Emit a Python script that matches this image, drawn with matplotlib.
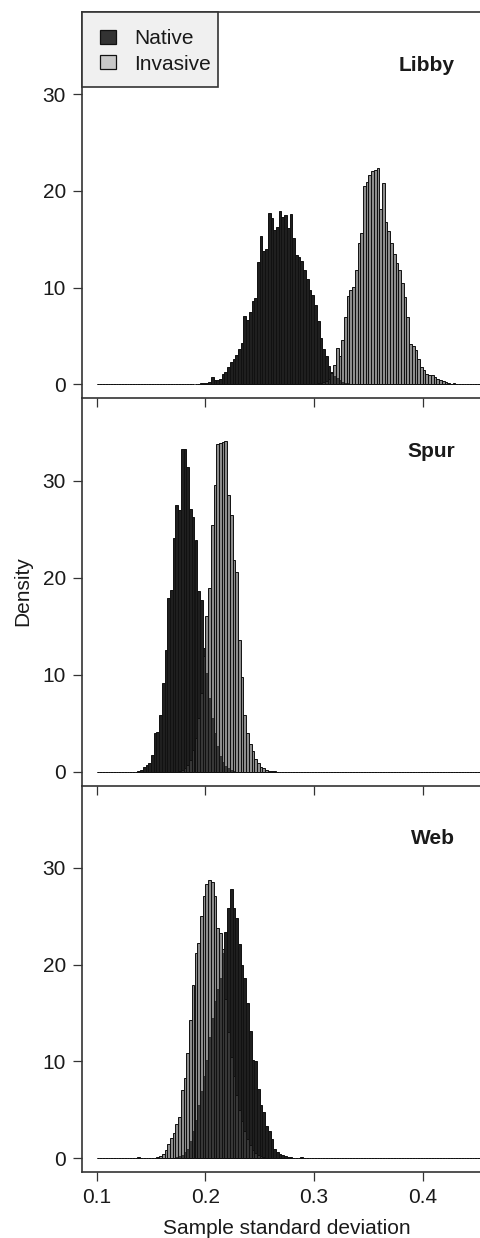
"""
Bootstrap sample-SD histograms, native vs invasive, three sites stacked.
"""

import matplotlib
matplotlib.use("Agg")
import matplotlib.patches as mpatches
import matplotlib.pyplot as plt
import numpy as np

plt.rcParams.update({
    "font.family": "Liberation Sans",
    "font.size": 15,
    "text.color": "#1a1a1a",
})

# ── Data (density per bin, bins 0.0025 wide starting at 0.1) ────────────────

BIN_START = 0.1
BIN_WIDTH = 0.0025
N_BINS = 160

SITES = ["Libby", "Spur", "Web"]
GROUPS = ["Native", "Invasive"]

LIBBY_NATIVE_FIRST = 33
LIBBY_NATIVE = [0.05, 0.05, 0, 0, 0.05, 0.1, 0.15, 0.1, 0.2, 0.75, 0.45, 0.4, 0.5,
                1.1, 1.3, 1.8, 2.3, 2.6, 3.0, 3.7, 4.3, 7.1, 6.6, 7.5, 8.6, 8.9,
                12.6, 15.3, 13.8, 14.0, 17.7, 17.2, 16.0, 16.3, 17.9, 17.3, 17.5,
                16.2, 17.6, 15.1, 13.4, 13.2, 12.7, 11.8, 10.9, 9.7, 9.2, 8.2, 6.5,
                4.8, 3.7, 2.9, 1.9, 1.3, 0.9, 0.6, 0.4, 0.25, 0.15, 0.1, 0.05]
LIBBY_INVASIVE_FIRST = 80
LIBBY_INVASIVE = [0.05, 0.1, 0.15, 0.2, 0.3, 0.5, 1.2, 2.0, 3.8, 2.9, 4.6, 7.0,
                  9.1, 9.8, 10.1, 11.8, 14.6, 15.6, 20.5, 20.9, 21.6, 22.1, 22.2,
                  22.4, 18.1, 20.8, 16.8, 15.8, 14.6, 13.5, 12.5, 11.8, 10.5, 9.0,
                  7.0, 4.2, 4.0, 3.5, 2.6, 1.8, 1.5, 1.1, 1.0, 1.0, 0.8, 0.5, 0.4,
                  0.3, 0.2, 0.1, 0.05, 0.1]

SPUR_NATIVE_FIRST = 15
SPUR_NATIVE = [0.1, 0.2, 0.5, 0.7, 0.85, 1.7, 4.0, 4.1, 5.8, 9.1, 12.5, 17.9, 18.7,
               24.1, 27.5, 27.0, 33.3, 33.3, 31.4, 27.1, 26.3, 23.9, 18.6, 17.7,
               12.8, 10.2, 7.6, 5.5, 4.0, 2.6, 1.6, 1.0, 0.6, 0.4, 0.2, 0.1]
SPUR_INVASIVE_FIRST = 30
SPUR_INVASIVE = [0.1, 0.2, 0.4, 0.7, 1.2, 2.2, 3.5, 5.5, 8.1, 11.9, 16.0, 18.9,
                 25.4, 29.6, 33.8, 33.9, 34.0, 34.1, 28.5, 26.5, 21.8, 20.6, 13.6,
                 9.8, 5.8, 4.0, 2.9, 2.1, 1.3, 0.9, 0.5, 0.35, 0.2, 0.1, 0.05, 0.1]

WEB_NATIVE_FIRST = 29
WEB_NATIVE = [0.1, 0.2, 0.3, 0.6, 1.0, 1.8, 2.8, 4.0, 5.5, 7.0, 8.5, 10.2, 12.5,
              14.5, 16.2, 17.5, 18.6, 21.2, 23.4, 25.9, 27.8, 25.9, 24.8, 22.1,
              20.0, 18.6, 16.0, 13.2, 10.2, 10.0, 7.2, 5.5, 4.8, 3.3, 2.8, 2.0,
              1.0, 0.6, 0.4, 0.3, 0.2, 0.15, 0.1, 0.05, 0.05, 0.05, 0.1]
WEB_INVASIVE_FIRST = 15
WEB_INVASIVE = [0.1, 0, 0, 0, 0, 0.05, 0.05, 0.1, 0.2, 0.4, 0.9, 1.5, 2.1, 2.6,
                3.5, 4.3, 7.1, 8.3, 10.9, 14.3, 17.9, 21.2, 22.2, 25.0, 27.1, 28.3,
                28.8, 28.5, 27.1, 23.8, 23.3, 21.6, 16.5, 13.0, 10.5, 8.5, 6.5,
                5.0, 3.8, 2.8, 2.0, 1.4, 0.9, 0.5, 0.3, 0.2, 0.1, 0.05]

SERIES = {
    "Libby": ((LIBBY_NATIVE_FIRST, LIBBY_NATIVE), (LIBBY_INVASIVE_FIRST, LIBBY_INVASIVE)),
    "Spur": ((SPUR_NATIVE_FIRST, SPUR_NATIVE), (SPUR_INVASIVE_FIRST, SPUR_INVASIVE)),
    "Web": ((WEB_NATIVE_FIRST, WEB_NATIVE), (WEB_INVASIVE_FIRST, WEB_INVASIVE)),
}

X_TICKS = [0.1, 0.2, 0.3, 0.4]
Y_TICKS = [0, 10, 20, 30]

# ── Style ───────────────────────────────────────────────────────────────────

NATIVE_FC = (0.12, 0.12, 0.12, 1.0)
INVASIVE_FC = (0.28, 0.28, 0.28, 0.62)
LEGEND_FC = ["#333333", "#c8c8c8"]
EDGE = "#111111"
AXIS_C = "#333333"

W, H = 481, 1238
LEFT_PX = 82
PANEL_PX = [(12, 398.3), (398.3, 785.7), (785.7, 1172.3)]


def _full(first, vals):
    h = np.zeros(N_BINS)
    h[first:first + len(vals)] = vals
    return h


def _fx(px):
    return px / W


def _fy(py):
    return 1 - py / H


fig = plt.figure(figsize=(W / 100, H / 100), dpi=100)
edges = BIN_START + BIN_WIDTH * np.arange(N_BINS)

axes = []
for i, site in enumerate(SITES):
    top, bot = PANEL_PX[i]
    ax = fig.add_axes([_fx(LEFT_PX), _fy(bot), 1 - _fx(LEFT_PX), (bot - top) / H])
    ax.set_facecolor("none")
    axes.append(ax)

    (nf, nv), (inf_, iv) = SERIES[site]
    ax.bar(edges, _full(nf, nv), width=BIN_WIDTH, align="edge",
           facecolor=NATIVE_FC, edgecolor=EDGE, linewidth=0.7)
    ax.bar(edges, _full(inf_, iv), width=BIN_WIDTH, align="edge",
           facecolor=INVASIVE_FC, edgecolor=EDGE, linewidth=0.7)

    ax.set_xlim(0.1 - 14.67 / 1087, 0.1 + 384.33 / 1087)
    ax.set_ylim(-1.45, 38.5)
    ax.set_xticks(X_TICKS)
    ax.set_yticks(Y_TICKS)
    ax.set_xticklabels([f"{t:.1f}" for t in X_TICKS])

    for side in ("left", "bottom", "top", "right"):
        ax.spines[side].set_color(AXIS_C)
        ax.spines[side].set_linewidth(1.2)
    ax.spines["right"].set_visible(False)
    ax.spines["top"].set_visible(i == 0)

    ax.tick_params(direction="out", length=6.5, width=0.9, color=AXIS_C,
                   labelsize=15, labelcolor="#1a1a1a", pad=5)
    if i < 2:
        ax.tick_params(axis="x", labelbottom=False)

    ax.text(0.935, 0.848, site, transform=ax.transAxes, ha="right",
            va="baseline", fontsize=15, fontweight="bold")

# ── Legend box (drawn by hand to match the R-style padding) ─────────────────

fig.add_artist(mpatches.Rectangle((_fx(82), _fy(86.7)), _fx(218) - _fx(82),
                                  _fy(12) - _fy(86.7), transform=fig.transFigure,
                                  facecolor="#f0f0f0", edgecolor=AXIS_C,
                                  linewidth=1.2, zorder=5))
for k, (label, fc) in enumerate(zip(GROUPS, LEGEND_FC)):
    yc = 37 + 25 * k
    fig.add_artist(mpatches.Rectangle((_fx(100), _fy(yc + 7)), _fx(116) - _fx(100),
                                      _fy(yc - 7) - _fy(yc + 7),
                                      transform=fig.transFigure, facecolor=fc,
                                      edgecolor=EDGE, linewidth=0.9, zorder=6))
    fig.text(_fx(134.5), _fy(yc), label, ha="left", va="center_baseline",
             fontsize=15, zorder=6)

fig.text(_fx(23), _fy(591), "Density", rotation=90, ha="center", va="center",
         fontsize=15)
fig.text(_fx(287), _fy(1228), "Sample standard deviation", ha="center",
         va="center", fontsize=15)

fig.savefig("out.png", dpi=100)
